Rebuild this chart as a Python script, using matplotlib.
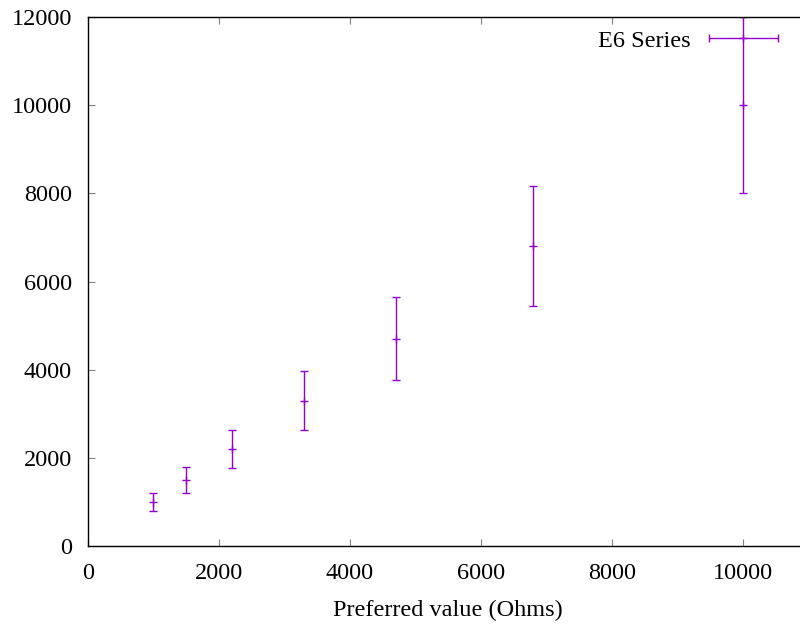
import numpy as np
import matplotlib.pyplot as plt
from matplotlib.legend_handler import HandlerErrorbar

plt.rcParams['font.family'] = ['Liberation Serif', 'DejaVu Serif']

# E6 preferred values with 20% tolerance
values = np.array([1000, 1500, 2200, 3300, 4700, 6800, 10000])
tolerance = 0.2
err = values * tolerance

col = '#9400D3'
fs = 17.5

fig = plt.figure(figsize=(8, 6.24), dpi=100)
ax = fig.add_axes([88/800, 1 - 546/624, 720/800, 529/624])

ax.errorbar(values, values, yerr=err, fmt='+', color=col, ms=6, mew=1,
            elinewidth=1, capsize=3, capthick=1)
# legend sample like gnuplot (horizontal bar)
h = ax.errorbar([np.nan], [np.nan], xerr=[1], fmt='+', color=col, ms=6, mew=1,
                elinewidth=1, capsize=3, capthick=1, label='E6 Series')

ax.set_xlim(0, 11000)
ax.set_ylim(0, 12000)
ax.set_xticks(range(0, 11000, 2000))
ax.set_yticks(range(0, 12001, 2000))
ax.tick_params(direction='in', length=5, color='gray', labelsize=fs,
               top=True, right=True)
ax.tick_params(axis='y', pad=11.5)
ax.tick_params(axis='x', pad=12)
for s in ax.spines.values():
    s.set_linewidth(1)
ax.set_xlabel('Preferred value (Ohms)', fontsize=fs, labelpad=11.5)

ax.legend(handles=[h], loc='upper right', bbox_to_anchor=(0.968, 0.990),
          frameon=False, markerfirst=False, fontsize=fs, handlelength=2.85,
          handletextpad=0.72, borderaxespad=0.1, borderpad=0.2,
          handler_map={type(h): HandlerErrorbar(xerr_size=1.42)})

fig.savefig('out.png', dpi=100)
